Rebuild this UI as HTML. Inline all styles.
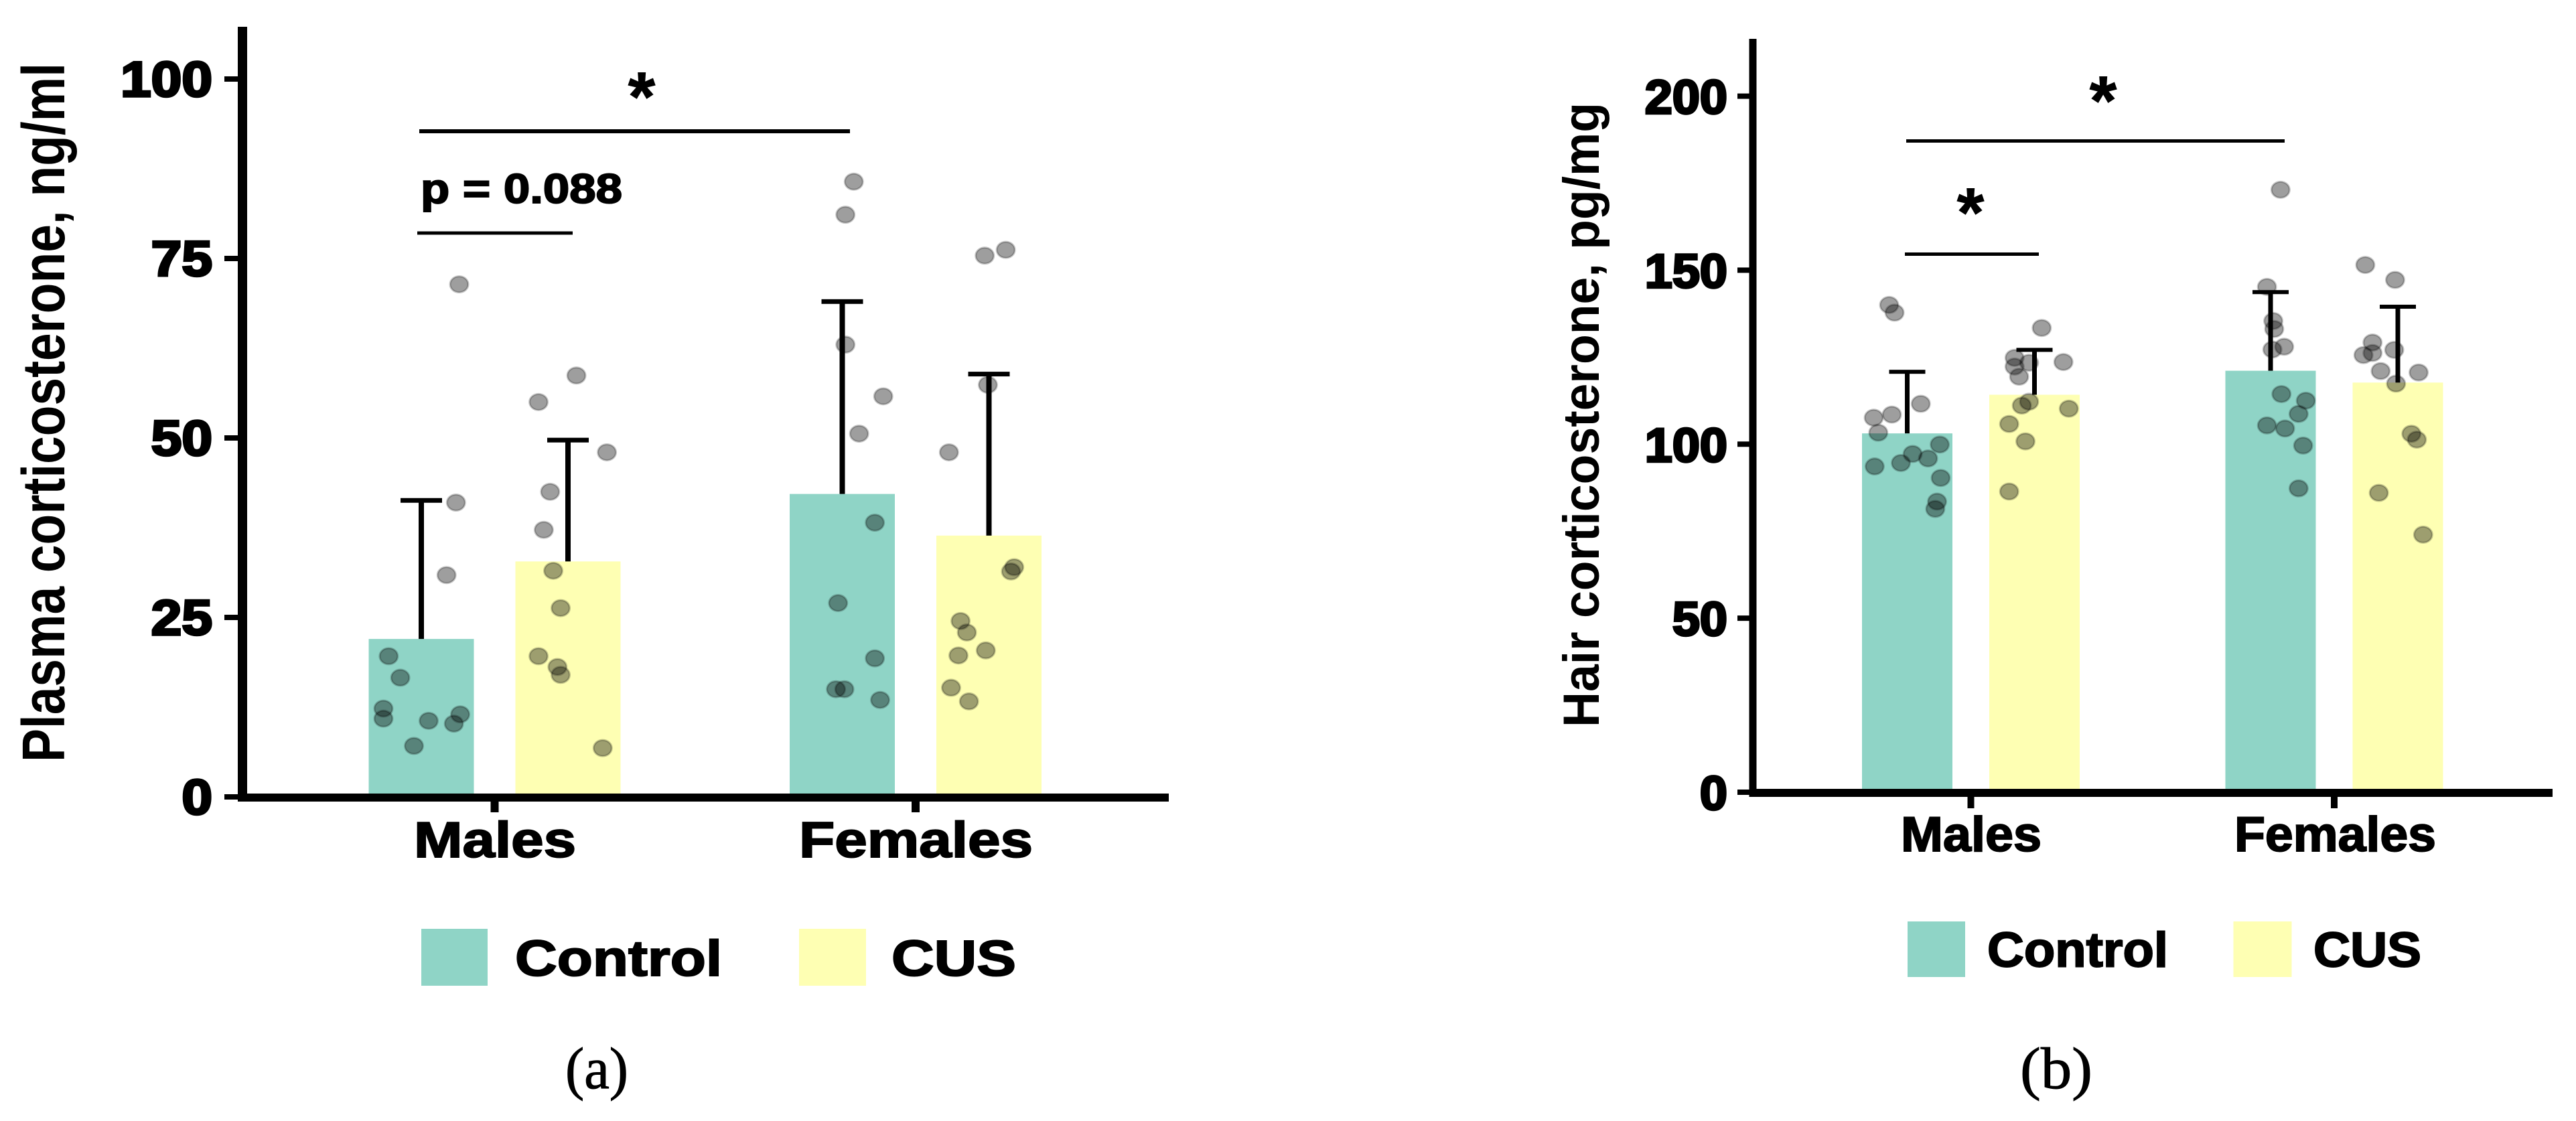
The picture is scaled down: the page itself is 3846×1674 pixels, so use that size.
<!DOCTYPE html>
<html lang="en">
<head>
<meta charset="utf-8">
<title>Plasma and hair corticosterone by sex and stress group</title>
<style>
html,body{margin:0;padding:0;background:#fff;width:3846px;height:1674px;overflow:hidden}
svg{display:block}
text{font-family:"Liberation Sans",Arial,sans-serif;fill:#000}
</style>
</head>
<body>
<svg id="figure" xmlns="http://www.w3.org/2000/svg" width="3846" height="1674" viewBox="0 0 3846 1674"></svg>
<script>
/* ---------- shared categories ---------- */
const categories = ['Males', 'Females'];
const seriesNames = ['Control', 'CUS'];

/* ---------- panel (a): plasma corticosterone, ng/ml ---------- */
const plasmaTicks = [0, 25, 50, 75, 100];
const plasmaMeansControl = [22.0, 42.2];
const plasmaMeansCUS = [32.8, 36.4];
const plasmaUpperControl = [41.3, 69.0];
const plasmaUpperCUS = [49.7, 58.9];
const plasmaMalesControl = [71.4, 41.0, 30.9, 19.6, 16.6, 12.3, 10.9, 10.6, 11.5, 10.2, 7.1];
const plasmaMalesControlJitter = [0.36, 0.33, 0.24, -0.31, -0.20, -0.36, -0.36, 0.07, 0.37, 0.31, -0.07];
const plasmaMalesCUS = [58.7, 55.0, 48.0, 42.5, 37.2, 31.5, 26.3, 19.6, 18.1, 17.0, 6.8];
const plasmaMalesCUSJitter = [0.08, -0.28, 0.37, -0.17, -0.23, -0.14, -0.07, -0.28, -0.10, -0.07, 0.33];
const plasmaFemalesControl = [85.7, 81.1, 63.0, 55.8, 50.6, 38.2, 27.0, 19.3, 15.0, 15.0, 13.5];
const plasmaFemalesControlJitter = [0.11, 0.03, 0.03, 0.39, 0.16, 0.31, -0.04, 0.31, -0.06, 0.02, 0.36];
const plasmaFemalesCUS = [75.4, 76.2, 57.4, 48.0, 32.0, 31.4, 24.5, 22.9, 20.4, 19.7, 15.2, 13.3];
const plasmaFemalesCUSJitter = [-0.04, 0.16, -0.01, -0.38, 0.24, 0.21, -0.27, -0.21, -0.03, -0.29, -0.36, -0.19];

/* ---------- panel (b): hair corticosterone, pg/mg ---------- */
const hairTicks = [0, 50, 100, 150, 200];
const hairMeansControl = [103.1, 121.1];
const hairMeansCUS = [114.2, 117.7];
const hairUpperControl = [120.8, 143.7];
const hairUpperCUS = [127.1, 139.5];
const hairMalesControl = [140.0, 137.8, 111.6, 108.5, 107.6, 103.3, 99.9, 97.2, 95.9, 94.6, 93.6, 90.3, 83.5, 81.4];
const hairMalesControlJitter = [-0.20, -0.14, 0.15, -0.17, -0.37, -0.32, 0.36, 0.06, 0.23, -0.07, -0.36, 0.37, 0.33, 0.31];
const hairMalesCUS = [133.4, 124.8, 123.4, 123.6, 122.3, 119.4, 112.2, 111.1, 110.2, 105.8, 100.8, 86.4];
const hairMalesCUSJitter = [0.08, -0.22, -0.06, 0.32, -0.22, -0.17, -0.06, -0.14, 0.38, -0.28, -0.10, -0.28];
const hairFemalesControl = [173.1, 145.2, 135.4, 133.1, 128.0, 127.2, 114.4, 112.5, 108.7, 105.4, 104.5, 99.6, 87.3];
const hairFemalesControlJitter = [0.11, -0.04, 0.03, 0.04, 0.15, 0.02, 0.12, 0.39, 0.31, -0.04, 0.16, 0.36, 0.31];
const hairFemalesCUS = [151.5, 147.2, 129.2, 126.2, 125.6, 127.1, 121.0, 120.6, 117.4, 103.0, 101.3, 86.0, 74.0];
const hairFemalesCUSJitter = [-0.36, -0.03, -0.28, -0.28, -0.38, -0.04, -0.19, 0.23, -0.02, 0.15, 0.21, -0.21, 0.28];

const TEAL = '#8fd4c6';
const YELLOW = '#feffb3';
const NS = 'http://www.w3.org/2000/svg';
const root = document.getElementById('figure');

function rect(parent, name, x, y, w, h, fill) {
  const el = document.createElementNS(NS, 'rect');
  
  
  el.setAttribute('x', x);
  el.setAttribute('y', y);
  el.setAttribute('width', w);
  el.setAttribute('height', h);
  el.setAttribute('fill', fill);
  parent.appendChild(el);
  return el;
}

function dot(parent, name, cx, cy) {
  const el = document.createElementNS(NS, 'ellipse');
  
  
  el.setAttribute('cx', cx);
  el.setAttribute('cy', cy);
  el.setAttribute('rx', 13.5);
  el.setAttribute('ry', 12);
  el.setAttribute('fill', 'rgba(0,0,0,0.38)');
  el.setAttribute('stroke', 'rgba(0,0,0,0.22)');
  el.setAttribute('stroke-width', 3);
  parent.appendChild(el);
  return el;
}

/* width = target ink width (text is stretched to it); anchor = start or end */
function label(parent, name, str, x, y, size, opts) {
  const o = opts || {};
  const el = document.createElementNS(NS, 'text');
  
  
  el.setAttribute('font-size', size);
  el.setAttribute('font-weight', o.weight || 'bold');
  if (o.family) el.setAttribute('style', 'font-family:' + o.family);
  if (o.heavy) {
    el.setAttribute('stroke', '#000');
    el.setAttribute('stroke-width', o.heavy);
  }
  el.setAttribute('text-anchor', o.anchor || 'start');
  let tf = 'translate(' + x + ',' + y + ')';
  if (o.rotate) tf += ' rotate(' + o.rotate + ')';
  if (o.sx) tf += ' scale(' + o.sx + ',1)';
  el.setAttribute('transform', tf);
  if (o.width) {
    el.setAttribute('textLength', o.width);
    el.setAttribute('lengthAdjust', 'spacingAndGlyphs');
  }
  el.textContent = str;
  parent.appendChild(el);
  return el;
}

function drawPanel(p) {
  const g = document.createElementNS(NS, 'g');
  
  
  root.appendChild(g);

  const yScale = v => p.y0 - v * p.yPerUnit;
  const groupX = i => p.groupStart + i * p.groupStep;
  const barX = (i, s) => groupX(i) + (s === 0 ? -p.dodge : p.dodge);

  /* bars */
  categories.forEach((cat, i) => {
    seriesNames.forEach((ser, s) => {
      const val = p.means[s][i];
      const cx = barX(i, s);
      rect(g, 'bar-' + cat.toLowerCase() + '-' + ser.toLowerCase(), cx - p.barW / 2, yScale(val), p.barW, p.y0 - yScale(val), s === 0 ? TEAL : YELLOW);
    });
  });

  /* error bars */
  categories.forEach((cat, i) => {
    seriesNames.forEach((ser, s) => {
      const cx = barX(i, s);
      const top = yScale(p.upper[s][i]);
      const base = yScale(p.means[s][i]);
      const id = cat.toLowerCase() + '-' + ser.toLowerCase();
      rect(g, 'error-stem-' + id, cx - p.errW / 2, top, p.errW, base - top, '#000');
      rect(g, 'error-cap-' + id, cx - p.capW / 2, top - p.capH / 2, p.capW, p.capH, '#000');
    });
  });

  /* individual data points */
  categories.forEach((cat, i) => {
    seriesNames.forEach((ser, s) => {
      const vals = p.points[i][s];
      const jit = p.jitter[i][s];
      vals.forEach((v, k) => {
        dot(g, 'point-' + cat.toLowerCase() + '-' + ser.toLowerCase(), barX(i, s) + jit[k] * p.barW, yScale(v));
      });
    });
  });

  /* axes */
  rect(g, 'y-axis-line', p.axisX - p.axisW / 2, p.axisTop, p.axisW, p.y0 - p.axisTop + p.xAxisH / 2 + 1, '#000');
  rect(g, 'x-axis-line', p.axisX, p.y0 + 1 - p.xAxisH / 2, p.axisRight - p.axisX, p.xAxisH, '#000');

  p.ticks.forEach(t => {
    const y = yScale(t);
    rect(g, 'y-tick-' + t, p.tickLeft, y - 4, p.axisX - p.tickLeft, 8, '#000');
    label(g, 'y-tick-label-' + t, String(t), p.labelRight, y + 26, p.tickFont, { anchor: 'end', sx: p.tickStretch, heavy: 3.5 });
  });

  categories.forEach((cat, i) => {
    rect(g, 'x-tick-' + cat.toLowerCase(), groupX(i) - p.xTickW / 2, p.y0, p.xTickW, p.xTickBottom - p.y0, '#000');
    label(g, 'x-label-' + cat.toLowerCase(), cat, p.catLabels[i][0] - 3, p.catBaseline, p.catFont, { width: p.catLabels[i][1] + 6, heavy: 2 });
  });

  /* y axis title */
  label(g, 'y-axis-title', p.title, p.titleX, p.titleY + 2, p.titleFont, { rotate: -90, width: p.titleLen + 4 });

  /* significance brackets */
  p.brackets.forEach((b, k) => {
    rect(g, 'significance-line-' + (k + 1), b[0], b[2] - b[3] / 2, b[1] - b[0], b[3], '#000');
  });
  p.stars.forEach((st, k) => {
    label(g, 'significance-star-' + (k + 1), '*', st[0], st[1] + 46, 104, { anchor: 'middle', heavy: 1 });
  });

  /* legend */
  const lg = document.createElementNS(NS, 'g');
  
  
  g.appendChild(lg);
  seriesNames.forEach((ser, s) => {
    const e = p.legend[s];
    rect(lg, 'legend-swatch-' + ser.toLowerCase(), e[0], p.legendTop, e[1] - e[0], p.legendH, s === 0 ? TEAL : YELLOW);
    label(lg, 'legend-label-' + ser.toLowerCase(), ser, e[2] - 3, p.legendBaseline, p.catFont, { width: e[3] - e[2] + 6, heavy: 2 });
  });

  /* panel letter */
  label(g, 'panel-label', p.letter, p.letterX, 1625, 88, { weight: 'normal', family: '"Liberation Serif",serif', width: p.letterW, heavy: 1 });
  return g;
}

const panelA = drawPanel({
  name: 'plasma-chart', title: 'Plasma corticosterone, ng/ml', letter: '(a)',
  ticks: plasmaTicks,
  means: [plasmaMeansControl, plasmaMeansCUS],
  upper: [plasmaUpperControl, plasmaUpperCUS],
  points: [[plasmaMalesControl, plasmaMalesCUS], [plasmaFemalesControl, plasmaFemalesCUS]],
  jitter: [[plasmaMalesControlJitter, plasmaMalesCUSJitter], [plasmaFemalesControlJitter, plasmaFemalesCUSJitter]],
  y0: 1190, yPerUnit: 10.72,
  groupStart: 738.5, groupStep: 628.5, dodge: 109.5, barW: 157,
  errW: 8, capW: 62, capH: 7,
  axisX: 362, axisW: 14, axisTop: 40, axisRight: 1745, xAxisH: 12,
  tickLeft: 335, labelRight: 317, tickFont: 74, tickStretch: 1.11,
  xTickW: 12, xTickBottom: 1213,
  catLabels: [[621, 236], [1196, 343]], catBaseline: 1280, catFont: 75,
  titleX: 96, titleY: 1136, titleFont: 90, titleLen: 1040,
  brackets: [[626, 1269, 196, 6], [623, 855, 348, 5]],
  stars: [[958, 134]],
  legend: [[629, 728, 772, 1075], [1193, 1293, 1334, 1514]],
  legendTop: 1387, legendH: 85, legendBaseline: 1457,
  letterX: 844, letterW: 94
});

const panelB = drawPanel({
  name: 'hair-chart', title: 'Hair corticosterone, pg/mg', letter: '(b)',
  ticks: hairTicks,
  means: [hairMeansControl, hairMeansCUS],
  upper: [hairUpperControl, hairUpperCUS],
  points: [[hairMalesControl, hairMalesCUS], [hairFemalesControl, hairFemalesCUS]],
  jitter: [[hairMalesControlJitter, hairMalesCUSJitter], [hairFemalesControlJitter, hairFemalesCUSJitter]],
  y0: 1183, yPerUnit: 5.197,
  groupStart: 2942.5, groupStep: 542.5, dodge: 95, barW: 135,
  errW: 7, capW: 54, capH: 6,
  axisX: 2617, axisW: 11, axisTop: 58, axisRight: 3811, xAxisH: 12,
  tickLeft: 2594, labelRight: 2579, tickFont: 71, tickStretch: 1.04,
  xTickW: 10, xTickBottom: 1207,
  catLabels: [[2841, 204], [3339, 295]], catBaseline: 1271, catFont: 73,
  titleX: 2387, titleY: 1084, titleFont: 76, titleLen: 929,
  brackets: [[2846, 3411, 210.5, 5], [2844, 3044, 379.5, 5]],
  stars: [[3140, 140], [2942, 307]],
  legend: [[2848, 2934, 2970, 3234], [3334.5, 3421.5, 3457, 3612]],
  legendTop: 1376, legendH: 83, legendBaseline: 1443.5,
  letterX: 3016, letterW: 108
});

/* p-value annotation on panel (a) */
label(panelA, 'p-value-annotation', 'p = 0.088', 628, 303, 62, { width: 301, heavy: 2 });
</script>
</body>
</html>
